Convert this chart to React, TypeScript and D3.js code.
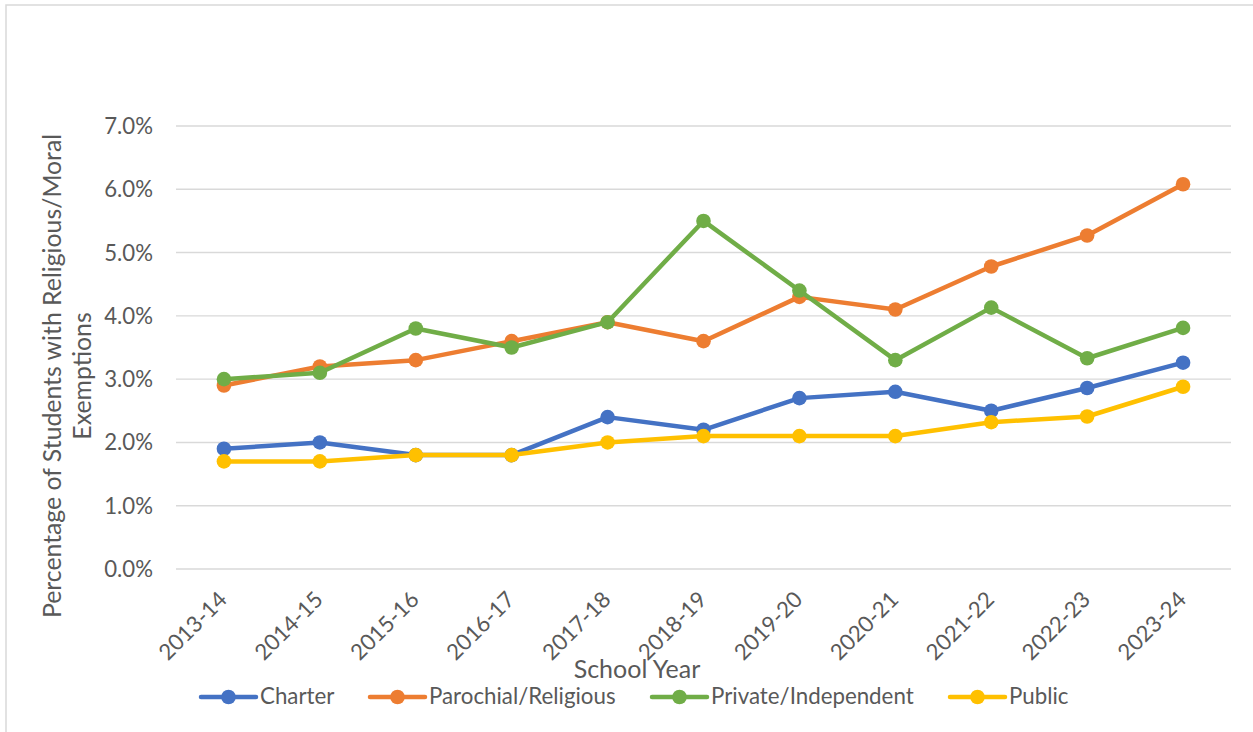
import React from "react";
import * as d3 from "d3";

const categories = ["2013-14","2014-15","2015-16","2016-17","2017-18","2018-19","2019-20","2020-21","2021-22","2022-23","2023-24"];
const charter = [1.9, 2.0, 1.8, 1.8, 2.4, 2.2, 2.7, 2.8, 2.5, 2.86, 3.26];
const parochial = [2.9, 3.2, 3.3, 3.6, 3.9, 3.6, 4.3, 4.1, 4.78, 5.27, 6.08];
const privateInd = [3.0, 3.1, 3.8, 3.5, 3.9, 5.5, 4.4, 3.3, 4.13, 3.33, 3.81];
const publicSch = [1.7, 1.7, 1.8, 1.8, 2.0, 2.1, 2.1, 2.1, 2.32, 2.41, 2.88];
const yTicks = [0, 1, 2, 3, 4, 5, 6, 7];

const seriesNames = ["Charter", "Parochial/Religious", "Private/Independent", "Public"];
const seriesColors = ["#4472C4", "#ED7D31", "#70AD47", "#FFC000"];
const seriesData = [charter, parochial, privateInd, publicSch];
const legendX = [201, 370, 652, 950];

const W = 1253, H = 732;
const left = 176, right = 1231, top = 126, bottom = 569;
const FONT = "Lato, Carlito, Calibri, sans-serif";
const TXT = "#595959";

export default function App() {
  const x = d3.scaleBand<string>().domain(categories).range([left, right]);
  const y = d3.scaleLinear().domain([0, 7]).range([bottom, top]);
  const cx = (c: string) => (x(c) as number) + x.bandwidth() / 2;
  const line = d3.line<number>().x((_, i) => cx(categories[i])).y((d) => y(d));

  return (
    <svg width={W} height={H} style={{ position: "absolute", left: 0, top: 0, fontFamily: FONT }}>
      <rect x={0} y={0} width={W} height={H} fill="#fff" />
      <rect x={6} y={5} width={W + 10} height={H + 10} fill="none" stroke="#D9D9D9" strokeWidth={1.5} />
      {yTicks.map((t) => (
        <g key={t}>
          <line x1={left} x2={right} y1={y(t)} y2={y(t)} stroke="#D9D9D9" strokeWidth={1.4} />
          <text x={153} y={y(t)} dy="0.36em" textAnchor="end" fontSize={22.2} fill={TXT}>
            {t.toFixed(1) + "%"}
          </text>
        </g>
      ))}
      {categories.map((c) => (
        <text key={c} transform={`translate(${cx(c) + 4.5},${601}) rotate(-45)`} textAnchor="end" fontSize={22.2} fill={TXT}>
          {c}
        </text>
      ))}
      {seriesData.map((s, k) => (
        <g key={seriesNames[k]}>
          <path d={line(s) as string} fill="none" stroke={seriesColors[k]} strokeWidth={4.5} strokeLinejoin="round" strokeLinecap="round" />
          {s.map((v, i) => (
            <circle key={i} cx={cx(categories[i])} cy={y(v)} r={7.3} fill={seriesColors[k]} />
          ))}
        </g>
      ))}
      <text x={637} y={678} textAnchor="middle" fontSize={25} fill={TXT}>School Year</text>
      <text transform={`translate(52,376) rotate(-90)`} textAnchor="middle" fontSize={24.8} fill={TXT}>
        <tspan x={0} dy="0.35em">Percentage of Students with Religious/Moral</tspan>
        <tspan x={0} dy={30}>Exemptions</tspan>
      </text>
      {seriesNames.map((n, k) => (
        <g key={n}>
          <line x1={legendX[k]} x2={legendX[k] + 55} y1={697} y2={697} stroke={seriesColors[k]} strokeWidth={4.5} strokeLinecap="round" />
          <circle cx={legendX[k] + 27.5} cy={697} r={7.3} fill={seriesColors[k]} />
          <text x={legendX[k] + 59} y={704} fontSize={22.3} fill={TXT}>{n}</text>
        </g>
      ))}
    </svg>
  );
}
